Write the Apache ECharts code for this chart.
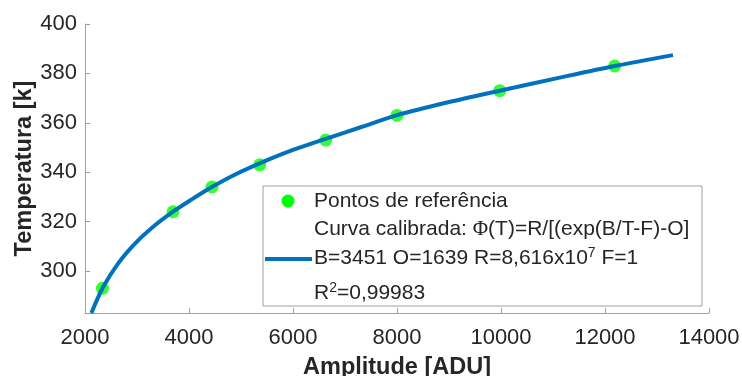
<!DOCTYPE html>
<html>
<head>
<meta charset="utf-8">
<script src="https://cdn.jsdelivr.net/npm/echarts@6/dist/echarts.min.js"></script>
<style>
  html, body { margin: 0; padding: 0; background: #fff; }
  #chart { width: 742px; height: 376px; }
</style>
</head>
<body>
<div id="chart"></div>
<script>
// Pontos de referência (amplitude ADU, temperatura K)
const refAmplitude = [2334, 3692, 4442, 5360, 6629, 8000, 9975, 12186];
const refTemperature = [293, 324, 334, 343, 353, 363, 373, 383];

// Curva calibrada
const curveAmplitude = [2123, 2346, 2635, 2956, 3277, 3692, 4046, 4431, 4879, 5360, 6000, 6642, 7315, 7989, 8980, 9975, 11065, 12186, 13308];
const curveTemperature = [283, 293.4, 303.0, 311.0, 317.3, 324.0, 328.9, 333.9, 339.0, 343.6, 349.0, 353.6, 358.3, 363.0, 368.3, 373.0, 378.0, 383.0, 387.4];

// Marcas dos eixos
const xTicks = [2000, 4000, 6000, 8000, 10000, 12000, 14000];
const yTicks = [300, 320, 340, 360, 380, 400];

const legendLines = [
  'Pontos de referência',
  'Curva calibrada: {phi|Φ}(T)=R/[(exp(B/T-F)-O]',
  'B=3451 O=1639 R=8,616x10{sup|7} F=1',
  'R{sup|2}=0,99983'
];

const axisGray = '#a0a0a0';
const textColor = '#262626';
const font = '"Liberation Sans", Arial, sans-serif';

const chart = echarts.init(document.getElementById('chart'), null, { renderer: 'canvas' });

const legendText = (txt, y) => ({
  type: 'text',
  left: 314,
  top: y,
  z: 101,
  style: {
    text: txt,
    fill: textColor,
    font: '21px ' + font,
    lineHeight: 25,
    rich: {
      sup: { fontSize: 14, fontFamily: font, fill: textColor, verticalAlign: 'top', lineHeight: 14 },
      phi: { fontSize: 21, fontFamily: '"Liberation Serif", serif', fill: textColor }
    }
  }
});

const option = {
  animation: false,
  backgroundColor: '#fff',
  grid: { left: 85, right: 33, top: 24, bottom: 63, outerBoundsMode: 'none' },
  xAxis: {
    type: 'value',
    min: 2000,
    max: 14000,
    interval: 2000,
    name: 'Amplitude [ADU]',
    nameLocation: 'middle',
    nameGap: 43,
    nameMoveOverlap: false,
    nameTextStyle: { fontSize: 23.5, fontWeight: 'bold', color: textColor, fontFamily: font },
    axisLine: { lineStyle: { color: axisGray, width: 1 } },
    axisTick: { inside: true, length: 5, lineStyle: { color: axisGray } },
    axisLabel: {
      fontSize: 22, color: textColor, fontFamily: font, margin: 14,
      customValues: xTicks,
      formatter: (v) => String(v)
    },
    splitLine: { show: false }
  },
  yAxis: {
    type: 'value',
    min: 283,
    max: 400,
    name: 'Temperatura [k]',
    nameLocation: 'middle',
    nameGap: 48,
    nameMoveOverlap: false,
    nameTextStyle: { fontSize: 23.5, fontWeight: 'bold', color: textColor, fontFamily: font },
    axisLine: { show: true, lineStyle: { color: axisGray, width: 1 } },
    axisTick: { show: true, inside: true, length: 5, lineStyle: { color: axisGray }, customValues: yTicks },
    axisLabel: { fontSize: 22, color: textColor, fontFamily: font, margin: 8, customValues: yTicks },
    splitLine: { show: false }
  },
  series: [
    {
      name: 'Pontos de referência',
      type: 'scatter',
      symbolSize: 13,
      itemStyle: { color: '#00ff00' },
      z: 2,
      data: refAmplitude.map((a, i) => [a, refTemperature[i]])
    },
    {
      name: 'Curva calibrada',
      type: 'line',
      smooth: 0.3,
      showSymbol: false,
      lineStyle: { color: '#0072bd', width: 4 },
      z: 3,
      data: curveAmplitude.map((a, i) => [a, curveTemperature[i]])
    }
  ],
  graphic: [
    {
      type: 'rect',
      shape: { x: 263, y: 186, width: 439, height: 120 },
      style: { fill: '#fff', stroke: axisGray, lineWidth: 1 },
      z: 100
    },
    {
      type: 'circle',
      shape: { cx: 288, cy: 201, r: 6.5 },
      style: { fill: '#00ff00' },
      z: 101
    },
    {
      type: 'line',
      shape: { x1: 265, y1: 259, x2: 312, y2: 259 },
      style: { stroke: '#0072bd', lineWidth: 4 },
      z: 101
    },
    legendText(legendLines[0], 189),
    legendText(legendLines[1], 217),
    legendText(legendLines[2], 246),
    legendText(legendLines[3], 281)
  ]
};

chart.setOption(option);

window.addEventListener('resize', () => {
  chart.resize();
});
</script>
</body>
</html>
